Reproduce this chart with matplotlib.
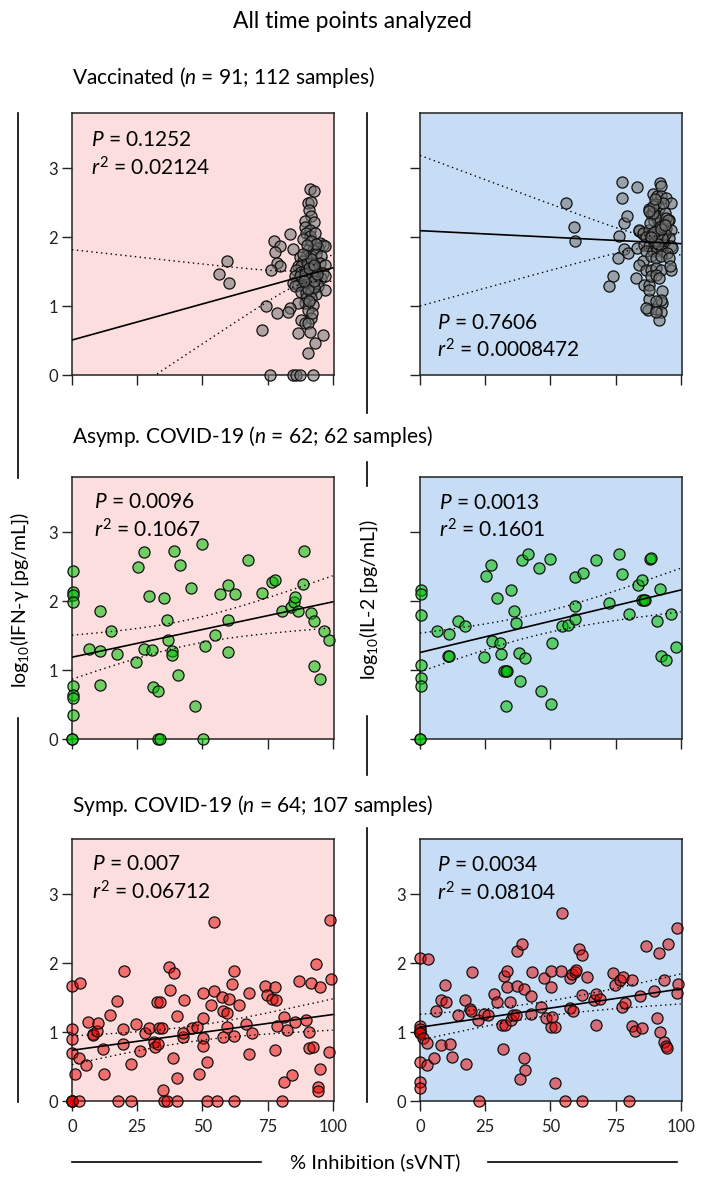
import numpy as np
import matplotlib.pyplot as plt
from matplotlib.lines import Line2D

plt.rcParams['font.family'] = ['Lato', 'DejaVu Sans']
plt.rcParams['mathtext.fontset'] = 'custom'
plt.rcParams['mathtext.rm'] = 'Lato'
plt.rcParams['mathtext.it'] = 'Lato:italic'

# vaccinated, IFN-g
vac_ifn_x = [91.2, 92.7, 90.6, 91.8, 91.0, 91.6, 89.5, 92.7, 89.3, 91.2, 89.9, 91.4, 93.1, 83.8, 77.5, 79.7,
             77.8, 78.8, 79.7, 76.5, 88.6, 84.6, 91.8, 95.0, 96.3, 94.4, 97.0, 90.6, 92.5, 89.9, 91.8, 93.7,
             95.6, 87.4, 88.6, 86.7, 88.0, 90.6, 92.5, 95.0, 97.0, 86.1, 88.0, 89.9, 91.8, 93.7, 96.3, 85.4,
             87.4, 89.3, 91.2, 93.1, 95.6, 97.0, 84.8, 86.7, 88.6, 90.6, 92.5, 94.4, 97.0, 85.4, 88.0, 89.9,
             91.8, 93.7, 89.9, 91.8, 89.3, 86.7, 83.5, 82.9, 78.7, 74.3, 72.7, 92.5, 90.6, 91.8, 88.0, 89.3,
             90.6, 91.2, 86.7, 96.3, 93.1, 90.6, 75.9, 84.6, 86.1, 87.4, 92.5, 56.4, 59.6, 60.1,
             90.0, 92.0, 91.0, 93.0, 90.5, 92.2, 89.5, 91.5, 93.5, 90.2, 92.8, 91.0, 89.0, 94.0, 90.8, 92.0,
             93.0, 88.5]
vac_ifn_y = [2.70, 2.67, 2.50, 2.51, 2.40, 2.30, 2.23, 2.22, 2.14, 2.11, 2.06, 2.02, 2.06, 2.04, 1.95, 1.87,
             1.79, 1.63, 1.58, 1.53, 1.97, 1.83, 1.94, 1.92, 1.88, 1.84, 1.87, 1.82, 1.82, 1.72, 1.72, 1.75,
             1.73, 1.71, 1.65, 1.58, 1.58, 1.60, 1.63, 1.63, 1.60, 1.53, 1.50, 1.52, 1.50, 1.53, 1.48, 1.43,
             1.44, 1.41, 1.43, 1.42, 1.41, 1.44, 1.34, 1.31, 1.29, 1.34, 1.31, 1.29, 1.24, 1.29, 1.21, 1.19,
             1.20, 1.17, 1.12, 1.12, 1.04, 1.04, 0.97, 0.92, 0.90, 1.00, 0.65, 1.02, 0.95, 0.83, 0.80, 0.75,
             0.75, 0.63, 0.61, 0.58, 0.46, 0.32, 0, 0, 0, 0, 0, 1.47, 1.65, 1.34,
             1.62, 1.45, 1.38, 1.27, 1.25, 1.56, 1.47, 1.68, 1.90, 1.88, 1.36, 1.55, 1.36, 1.46, 1.08, 0.90,
             1.60, 1.75]

# vaccinated, IL-2
vac_il2_x = [56.1, 59.0, 59.5, 72.6, 73.9, 75.8, 76.4, 77.3, 77.3, 78.3, 79.3, 78.3, 79.6, 83.4, 83.4, 82.8,
             84.1, 85.4, 86.0, 87.9, 87.9, 87.6, 90.4, 92.7, 92.7, 92.4, 91.5, 96.2, 92.0, 92.4, 89.2, 91.1,
             92.4, 94.3, 96.2, 87.9, 89.8, 91.7, 88.5, 91.1, 89.8, 91.7, 95.5, 93.6, 84.1, 85.4, 87.9, 89.8,
             91.7, 94.3, 96.2, 86.6, 88.5, 90.5, 92.4, 95.5, 85.9, 87.9, 89.8, 91.7, 93.6, 96.2, 96.8, 86.6,
             89.2, 91.1, 93.0, 94.9, 85.4, 84.1, 88.5, 90.5, 92.4, 95.5, 86.6, 88.5, 90.5, 92.4, 95.8, 88.5,
             90.5, 91.7, 87.9, 91.0, 88.2, 92.4, 90.5, 86.6, 93.3, 90.0, 90.5, 93.8, 89.4,
             89.0, 93.5, 90.0, 94.0, 91.0, 93.0, 89.5, 92.0, 94.5, 90.8, 88.0, 93.2, 91.4, 89.6, 95.0, 92.6,
             90.2, 88.8, 94.0]
vac_il2_y = [2.49, 2.14, 1.94, 1.29, 1.43, 1.70, 2.01, 2.80, 2.56, 2.21, 2.30, 1.83, 1.77, 2.73, 1.84, 1.41,
             2.09, 2.04, 1.31, 1.31, 1.10, 0.95, 0.96, 1.04, 1.22, 0.92, 0.80, 1.52, 2.79, 2.74, 2.62, 2.59,
             2.59, 2.56, 2.50, 2.41, 2.37, 2.42, 2.33, 2.30, 2.23, 2.21, 2.25, 2.18, 2.11, 2.06, 2.11, 2.06,
             2.11, 2.13, 2.11, 2.00, 1.99, 2.00, 1.96, 1.99, 1.89, 1.87, 1.92, 1.87, 1.92, 1.87, 1.84, 1.80,
             1.80, 1.82, 1.80, 1.77, 1.65, 1.60, 1.72, 1.70, 1.72, 1.70, 1.53, 1.52, 1.55, 1.52, 1.58, 1.43,
             1.45, 1.41, 1.24, 2.28, 2.20, 1.09, 1.07, 0.97, 1.98, 2.48, 0.92, 2.05, 2.35,
             2.05, 2.20, 1.95, 2.35, 2.10, 1.98, 2.45, 2.15, 2.28, 2.02, 2.38, 2.50, 1.90, 2.08, 2.25, 2.12,
             2.55, 2.00, 2.18]

# asymptomatic COVID-19, IFN-g
asy_ifn_x = [0.5, 0.5, 0.5, 0.5, 0.5, 0.5, 0.5, 0.5, 0.0, 0.0, 6.7, 10.8, 10.8, 10.8, 14.9, 17.2, 24.5, 25.5,
             27.7, 27.8, 29.7, 30.7, 31.2, 32.8, 33.1, 33.7, 35.1, 36.4, 37.0, 38.3, 38.3, 39.2, 40.5, 41.6,
             45.7, 47.0, 49.8, 50.4, 51.1, 54.9, 56.9, 59.7, 59.8, 59.8, 62.6, 67.6, 72.9, 76.7, 78.0, 80.5,
             84.1, 85.3, 85.7, 86.7, 88.5, 88.9, 91.7, 92.7, 92.9, 95.0, 96.5, 98.5]
asy_ifn_y = [2.44, 2.13, 2.09, 1.99, 0.77, 0.64, 0.60, 0.35, 0, 0, 1.31, 1.85, 1.28, 0.78, 1.56, 1.23, 1.12,
             2.50, 2.71, 1.31, 2.07, 1.29, 0.76, 0.69, 0, 0, 2.05, 1.72, 1.44, 1.28, 1.22, 2.72, 0.93, 2.53,
             2.19, 0.48, 2.83, 0, 1.35, 1.51, 2.10, 1.72, 2.23, 1.26, 2.11, 2.60, 2.12, 2.27, 2.30, 1.85,
             1.91, 1.99, 2.06, 1.85, 2.25, 2.73, 1.83, 1.71, 1.06, 0.87, 1.56, 1.44]

# asymptomatic COVID-19, IL-2
asy_il2_x = [0.5, 0.5, 0.5, 0.5, 0.5, 0.5, 0.0, 0.0, 6.6, 11.0, 10.8, 11.0, 14.5, 17.2, 24.5, 25.2,
             27.4, 27.8, 29.6, 30.6, 31.2, 32.1, 33.4, 33.1, 35.0, 36.1, 36.9, 38.0, 40.1, 38.2, 39.1, 41.4,
             45.6, 46.6, 49.8, 50.1, 50.7, 54.5, 56.7, 59.5, 59.5, 59.5, 62.4, 67.5, 72.4, 76.4, 77.5, 80.3,
             83.7, 85.1, 85.1, 86.4, 88.2, 88.8, 91.1, 92.0, 92.6, 94.5, 96.2, 98.1, 33.0, 86.0]
asy_il2_y = [2.16, 2.10, 1.80, 1.07, 0.88, 0.77, 0, 0, 1.56, 1.52, 1.20, 1.21, 1.71, 1.64, 1.19, 2.36,
             2.53, 1.42, 2.04, 1.39, 1.23, 0.98, 0.98, 0.48, 2.16, 1.86, 1.68, 1.25, 1.18, 0.84, 2.60, 2.69,
             2.48, 0.69, 2.61, 0.51, 1.39, 1.64, 1.65, 1.93, 1.74, 2.35, 2.41, 2.60, 1.97, 2.69, 2.39, 1.82,
             2.24, 2.31, 2.01, 2.01, 2.61, 2.63, 1.71, 2.17, 1.21, 1.15, 1.82, 1.34, 0.98, 2.02]

# symptomatic COVID-19, IFN-g
sym_ifn_x = [0.0, 3.1, 0.0, 0.0, 0.0, 1.2, 0.0, 0.0, 0.0, 0.0, 2.7, 2.8, 5.4, 6.3, 8.2, 8.0, 9.5, 9.9, 11.7,
             12.3, 14.6, 17.1, 17.8, 19.4, 19.4, 19.9, 22.6, 22.6, 24.4, 26.2, 28.1, 29.7, 31.3, 32.0, 32.6,
             33.6, 33.0, 33.2, 34.5, 34.8, 35.2, 36.5, 37.2, 37.6, 39.2, 38.6, 40.1, 40.4, 40.3, 42.4, 42.6,
             43.1, 46.2, 48.0, 48.7, 50.3, 50.3, 50.4, 50.4, 51.9, 51.9, 53.4, 54.4, 54.4, 55.7, 57.6, 57.8,
             58.0, 59.3, 59.3, 60.2, 61.2, 62.3, 62.1, 62.3, 64.1, 66.9, 67.8, 67.9, 68.9, 74.1, 74.7, 76.9,
             78.2, 77.8, 78.0, 78.6, 80.5, 81.4, 81.5, 82.4, 84.5, 85.5, 87.2, 89.9, 91.0, 91.0, 92.6, 91.8,
             93.6, 94.2, 94.2, 95.0, 95.2, 98.6, 98.8, 99.4]
sym_ifn_y = [1.67, 1.71, 1.05, 0.90, 0.70, 0.39, 0, 0, 0, 0, 0, 0.63, 0.52, 1.15, 0.97, 0.96, 1.02, 1.13, 0.75,
             0.39, 1.25, 1.45, 0, 1.04, 0.82, 1.88, 0.54, 0, 1.11, 0.72, 0.98, 1.06, 0.86, 0.79, 1.43,
             1.44, 0.82, 1.06, 1.06, 0.16, 0, 0, 1.95, 1.61, 1.85, 0.63, 1.23, 0.34, 0, 0.93, 0.99,
             1.47, 1.06, 1.08, 0.39, 1.20, 0.91, 0.80, 1.57, 0.56, 0, 1.39, 1.60, 2.59, 0, 1.51, 0.93,
             1.30, 1.28, 1.07, 1.48, 1.69, 1.88, 0.94, 0, 1.39, 1.11, 0.68, 1.57, 0.99, 1.67, 1.54, 1.48,
             1.47, 0.74, 1.65, 1.09, 0, 0.28, 1.22, 1.03, 0.38, 1.14, 1.74, 1.18, 1.00, 0.77, 0.78, 1.71,
             1.99, 0.21, 0.14, 0.46, 1.65, 0.71, 2.62, 1.77]

# symptomatic COVID-19, IL-2
sym_il2_x = [0.0, 3.1, 0.0, 0.0, 0.0, 0.0, 0.0, 0.0, 0.0, 1.0, 2.8, 0.0, 2.6, 0.0, 0.0, 5.4, 6.2, 7.9, 9.6,
             10.0, 8.1, 11.5, 12.4, 14.5, 17.1, 17.8, 19.9, 19.2, 19.6, 22.4, 22.6, 24.4, 26.0, 28.2, 29.5,
             31.7, 31.4, 32.7, 32.3, 33.3, 33.3, 34.6, 34.9, 35.6, 36.9, 37.3, 37.2, 39.1, 39.9, 39.9, 40.4,
             38.5, 42.4, 42.7, 43.1, 46.3, 47.6, 48.5, 50.1, 50.5, 50.3, 50.3, 51.8, 51.9, 54.2, 54.4, 55.5,
             57.4, 58.7, 57.7, 58.3, 59.6, 60.0, 61.0, 62.2, 62.2, 62.2, 64.1, 66.7, 67.7, 69.0, 67.7, 74.0,
             74.7, 76.7, 77.9, 77.6, 78.5, 80.1, 81.4, 81.4, 82.3, 84.4, 85.3, 86.8, 89.7, 90.8, 91.7, 92.1,
             93.6, 93.7, 94.2, 94.9, 95.3, 98.5, 99.0, 98.7]
sym_il2_y = [2.08, 2.06, 1.09, 1.00, 1.00, 1.00, 1.00, 1.05, 0.98, 0.91, 0.84, 0.57, 0.52, 0.28, 0.19, 0.62,
             1.31, 1.46, 1.68, 1.43, 0.81, 0.82, 0.64, 1.25, 1.46, 0.53, 1.87, 1.33, 1.30, 1.18, 0, 1.26, 1.25,
             1.55, 1.43, 0.76, 1.10, 1.10, 1.81, 1.89, 1.65, 1.44, 1.17, 1.25, 1.25, 1.67, 2.17, 2.27, 1.62,
             0.63, 0.45, 0.32, 1.26, 1.52, 1.87, 1.37, 1.78, 1.21, 1.07, 1.22, 1.88, 1.65, 1.08, 0.26, 1.88,
             2.73, 0, 1.35, 1.30, 1.78, 1.84, 1.87, 1.90, 2.21, 2.12, 1.54, 0, 1.80, 1.46, 1.55, 1.48, 1.10,
             1.85, 1.68, 1.75, 1.80, 1.36, 1.42, 0, 1.76, 1.09, 1.02, 1.53, 1.06, 2.25, 1.60, 1.20, 2.15,
             1.00, 1.75, 0.85, 0.80, 0.77, 2.28, 1.57, 1.69, 2.51]

p_vals = ['0.1252', '0.7606', '0.0096', '0.0013', '0.007', '0.0034']
r2_vals = ['0.02124', '0.0008472', '0.1067', '0.1601', '0.06712', '0.08104']
group_titles = [('Vaccinated', '91', '112'), ('Asymp. COVID-19', '62', '62'), ('Symp. COVID-19', '64', '107')]

W, H = 704, 1183
fig = plt.figure(figsize=(W / 100, H / 100), dpi=100)


def fx(px):
    return px / W


def fy(py):
    return 1 - py / H


def fit_band(x, y, xs, t=1.98):
    x = np.asarray(x, float)
    y = np.asarray(y, float)
    b, a = np.polyfit(x, y, 1)
    n = len(x)
    s = np.sqrt(np.sum((y - a - b * x) ** 2) / (n - 2))
    sxx = np.sum((x - x.mean()) ** 2)
    se = s * np.sqrt(1 / n + (xs - x.mean()) ** 2 / sxx)
    yh = a + b * xs
    return yh, yh - t * se, yh + t * se


panels = [(vac_ifn_x, vac_ifn_y), (vac_il2_x, vac_il2_y),
          (asy_ifn_x, asy_ifn_y), (asy_il2_x, asy_il2_y),
          (sym_ifn_x, sym_ifn_y), (sym_il2_x, sym_il2_y)]
dot_cols = [(0.45, 0.45, 0.45, 0.55), (0.0, 0.75, 0.0, 0.55), (0.9, 0.0, 0.0, 0.5)]
bg_cols = ['#FDDEDE', '#C7DDF5']
col_px = [72, 420]
row_px = [113, 477, 839]
pw, ph = 262, 262
stat_pos = [(0.073, 0.897, 0.79), (0.065, 0.198, 0.095),
            (0.085, 0.904, 0.797), (0.073, 0.900, 0.797),
            (0.076, 0.904, 0.797), (0.065, 0.900, 0.795)]

for i, (xd, yd) in enumerate(panels):
    r, c = divmod(i, 2)
    ax = fig.add_axes([fx(col_px[c]), fy(row_px[r] + ph), pw / W, ph / H])
    ax.set_facecolor(bg_cols[c])
    ax.set_xlim(0, 100.5)
    ax.set_ylim(0, 3.8)
    ax.scatter(xd, yd, s=64, facecolors=[dot_cols[r]], edgecolors='#111111',
               linewidths=0.9, clip_on=False, zorder=3)
    xs = np.linspace(0, 100, 200)
    yh, lo, hi = fit_band(xd, yd, xs)
    ax.plot(xs, yh, color='black', lw=1.2, zorder=4)
    ax.plot(xs, lo, color='black', lw=1.0, ls=(0, (1, 2.5)), zorder=4)
    ax.plot(xs, hi, color='black', lw=1.0, ls=(0, (1, 2.5)), zorder=4)
    ax.set_xticks([0, 25, 50, 75, 100])
    ax.set_yticks([0, 1, 2, 3])
    ax.tick_params(direction='out', length=7, width=1.0, color='#222222',
                   labelsize=12, labelcolor='#222222', pad=3)
    ax.tick_params(axis='x', pad=6)
    for sp in ax.spines.values():
        sp.set_color('#222222')
        sp.set_linewidth(1.1)
    if r < 2:
        ax.set_xticklabels([])
    if c == 1 and r < 2:
        ax.set_yticklabels([])
    tx, ty1, ty2 = stat_pos[i]
    ax.text(tx, ty1, r'$\mathit{P}$ = ' + p_vals[i], transform=ax.transAxes,
            fontsize=15, va='center', ha='left')
    ax.text(tx, ty2, r'$\mathit{r}^{\mathrm{2}}$ = ' + r2_vals[i], transform=ax.transAxes,
            fontsize=15, va='center', ha='left')

fig.text(fx(352), fy(22), 'All time points analyzed', fontsize=16.5, ha='center', va='center')

title_y = [78, 437, 806]
for (name, n, smp), ty in zip(group_titles, title_y):
    fig.text(fx(72), fy(ty), name + r' ($\mathit{n}$ = ' + n + '; ' + smp + ' samples)',
             fontsize=15, ha='left', va='center')

fig.text(fx(20), fy(600), r'log$_{\mathrm{10}}$(IFN-γ [pg/mL])', rotation=90,
         fontsize=14, ha='center', va='center')
fig.text(fx(369), fy(600), r'log$_{\mathrm{10}}$(IL-2 [pg/mL])', rotation=90,
         fontsize=14, ha='center', va='center')
fig.text(fx(375), fy(1162), '% Inhibition (sVNT)', fontsize=14.5, ha='center', va='center')

# bracket lines around the shared labels
vlines = [(18, 113, 478), (18, 718, 1102),
          (367, 113, 413), (367, 462, 486), (367, 716, 775), (367, 828, 1102)]
for x, y0, y1 in vlines:
    fig.add_artist(Line2D([fx(x), fx(x)], [fy(y0), fy(y1)], color='black', lw=1.2))
for x0, x1 in [(72, 261), (488, 677)]:
    fig.add_artist(Line2D([fx(x0), fx(x1)], [fy(1162), fy(1162)], color='black', lw=1.2))

fig.savefig('out.png', dpi=100)
